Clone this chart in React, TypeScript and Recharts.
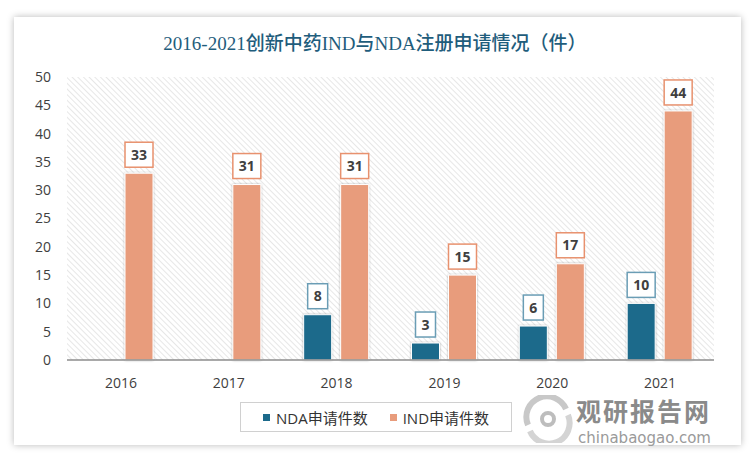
import React from 'react';
import { BarChart, Bar, XAxis, YAxis, CartesianGrid, Legend, LabelList } from 'recharts';

// 数据（件）
const years = ['2016', '2017', '2018', '2019', '2020', '2021'];
const ndaCounts: (number | null)[] = [null, null, 8, 3, 6, 10];
const indCounts = [33, 31, 31, 15, 17, 44];
const yTicks = [0, 5, 10, 15, 20, 25, 30, 35, 40, 45, 50];

const seriesNames = { nda: 'NDA申请件数', ind: 'IND申请件数' };

const data = years.map((year, i) => ({ year, nda: ndaCounts[i], ind: indCounts[i] }));

const colors = {
  nda: '#1c6a8b',
  ind: '#e89c7c',
  ndaBorder: '#6a9db5',
  indBorder: '#e8916e',
  title: '#1f5d7c',
  text: '#404040',
};

const font = '"Open Sans", "Noto Sans CJK SC", sans-serif';

// boxed value label above each bar
const boxLabel = (stroke: string) => (props: any) => {
  const { x, y, width, value } = props;
  if (value == null) return null;
  const text = String(value);
  const w = text.length * 8 + 12;
  const h = 25;
  const cx = Number(x) + Number(width) / 2;
  const top = Number(y) - 6 - h;
  return (
    <g>
      <rect x={cx - w / 2} y={top} width={w} height={h} fill="#fff" stroke={stroke} strokeWidth={1.5} />
      <text x={cx} y={top + h / 2} dy="0.36em" textAnchor="middle" fill={colors.text}
        fontFamily={font} fontWeight={700} fontSize={14}>
        {text}
      </text>
    </g>
  );
};

const LegendBox = () => (
  <div style={{
    boxSizing: 'border-box', width: 272, height: 30, border: '1px solid #d0d0d0', background: '#fff',
    display: 'flex', alignItems: 'center', fontFamily: font, fontSize: 15, color: '#333',
  }}>
    <span style={{ width: 7, height: 7, background: colors.nda, marginLeft: 22, marginRight: 6 }} />
    <span>{seriesNames.nda}</span>
    <span style={{ width: 7, height: 7, background: colors.ind, marginLeft: 22, marginRight: 6 }} />
    <span>{seriesNames.ind}</span>
  </div>
);

const Watermark = () => (
  <div style={{ position: 'absolute', left: 520, top: 395, width: 200, height: 54 }}>
    <svg width={56} height={48} style={{ position: 'absolute', left: 0, top: 0 }}>
      <path d="M8 30 A20 20 0 0 1 46 14" fill="none" stroke="#c8c8c8" strokeWidth={6} />
      <path d="M48 20 A20 20 0 0 1 10 36" fill="none" stroke="#d4d4d4" strokeWidth={6} />
      <circle cx={28} cy={24} r={6} fill="none" stroke="#bdbdbd" strokeWidth={4} />
    </svg>
    <div style={{ position: 'absolute', left: 56, top: 0, fontFamily: '"Noto Sans CJK SC", sans-serif',
      fontWeight: 700, fontSize: 25, lineHeight: '30px', color: '#8a8a8a', letterSpacing: 2 }}>
      观研报告网
    </div>
    <div style={{ position: 'absolute', left: 58, top: 34, fontFamily: '"DejaVu Sans", sans-serif',
      fontSize: 15, lineHeight: '18px', color: '#9a9a9a' }}>
      chinabaogao.com
    </div>
  </div>
);

export default function App() {
  return (
    <div style={{ position: 'fixed', left: 0, top: 0, width: 750, height: 460, background: '#fff', overflow: 'hidden' }}>
      <div style={{
        position: 'absolute', left: 14, top: 17, width: 727, height: 428, background: '#fff',
        boxShadow: '0 0 7px rgba(0,0,0,0.28)',
      }} />
      <div style={{
        position: 'absolute', left: 0, top: 30, width: 750, textAlign: 'center',
        fontFamily: '"Liberation Serif", "Noto Sans CJK SC", serif', fontSize: 19, lineHeight: '28px',
        color: colors.title, fontWeight: 500,
      }}>
        2016-2021创新中药IND与NDA注册申请情况（件）
      </div>
      <div style={{ position: 'absolute', left: 0, top: 0 }}>
        <BarChart width={750} height={460} data={data}
          margin={{ top: 77, right: 36, left: 17, bottom: 40 }}
          barSize={28} barGap={9}>
          <defs>
            <pattern id="hatch" width={4} height={4} patternUnits="userSpaceOnUse" patternTransform="rotate(-45)">
              <line x1={0} y1={0} x2={0} y2={4} stroke="#d6d6d6" strokeWidth={1.2} />
            </pattern>
            <filter id="barShadow" x="-20%" y="-20%" width="140%" height="140%">
              <feDropShadow dx={0} dy={0} stdDeviation={1.2} floodColor="#000" floodOpacity={0.3} />
            </filter>
          </defs>
          <CartesianGrid horizontal={false} vertical={false} fill="url(#hatch)" />
          <XAxis dataKey="year" tickLine={false} axisLine={{ stroke: '#8c8c8c', strokeWidth: 1.5 }}
            height={30} tickMargin={12}
            tick={{ fill: colors.text, fontSize: 14, fontFamily: font }} />
          <YAxis domain={[0, 50]} ticks={yTicks} axisLine={false} tickLine={false} width={50}
            tickMargin={10} interval={0}
            tick={{ fill: colors.text, fontSize: 14, fontFamily: font }} />
          <Legend verticalAlign="bottom" wrapperStyle={{ left: 240, top: 402, width: 272, height: 30 }}
            content={() => <LegendBox />} />
          <Bar dataKey="nda" name={seriesNames.nda} fill={colors.nda} stroke="#fff" strokeWidth={1}
            filter="url(#barShadow)" isAnimationActive={false}>
            <LabelList dataKey="nda" content={boxLabel(colors.ndaBorder)} />
          </Bar>
          <Bar dataKey="ind" name={seriesNames.ind} fill={colors.ind} stroke="#fff" strokeWidth={1}
            filter="url(#barShadow)" isAnimationActive={false}>
            <LabelList dataKey="ind" content={boxLabel(colors.indBorder)} />
          </Bar>
        </BarChart>
      </div>
      <Watermark />
    </div>
  );
}
